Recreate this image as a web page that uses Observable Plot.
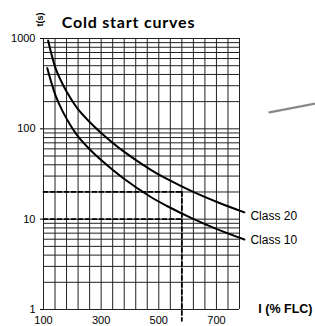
<!DOCTYPE html>
<html><head><meta charset="utf-8">
<script src="https://cdn.jsdelivr.net/npm/d3@7"></script>
<script src="https://cdn.jsdelivr.net/npm/@observablehq/plot@0.6"></script>
<style>html,body{margin:0;padding:0;background:#fff;} svg{display:block;overflow:visible}</style>
</head><body><div id="chart"></div>
<script>
// Data
const class20X = [116, 142, 166, 194, 221, 260, 298, 378, 471, 530, 610, 704, 797];
const class20T = [950, 466, 314, 218, 163, 119, 91.3, 56.3, 35.4, 27.7, 20.7, 15.4, 11.9];
const class10X = [113, 142, 166, 194, 221, 260, 298, 378, 471, 530, 610, 704, 797];
const class10T = [470, 233, 157, 109, 81.5, 59.5, 45.7, 28.2, 17.7, 13.9, 10.4, 7.7, 5.95];
const seriesNames = ["Class 20", "Class 10"];
const titleText = "Cold start curves";
const yLabelText = "t(s)";
const xLabelText = "I (% FLC)";
const xTicks = [100, 300, 500, 700];
const yTicks = [1, 10, 100, 1000];
const xDomain = [100, 780];
const yDomain = [1, 1000];
const xGrid = d3.range(100, 781, 40);
const yGrid = [1,2,3,4,5,6,7,8,9,10,20,30,40,50,60,70,80,90,100,200,300,400,500,600,700,800,900,1000];
const refX = 580;
const refT = [20, 10];
const refVertT = [20, 0.75];
const strayX = [884, 1044];
const strayT = [152, 191];

const c20 = class20X.map((x, i) => ({x, t: class20T[i]}));
const c10 = class10X.map((x, i) => ({x, t: class10T[i]}));
const refRows = refT.flatMap(t => [{x: xDomain[0], t, k: t}, {x: refX, t, k: t}]);
const refVert = refVertT.map(t => ({x: refX, t}));
const stray = strayX.map((x, i) => ({x, t: strayT[i]}));
const sans = "'Liberation Sans', Arial, sans-serif";

const chart = Plot.plot({
  width: 315,
  height: 326,
  marginLeft: 43,
  marginRight: 76,
  marginTop: 38,
  marginBottom: 17,
  style: {fontFamily: sans, fontSize: "11px", background: "#fff", color: "#000"},
  x: {domain: xDomain, label: null},
  y: {type: "log", domain: yDomain, label: null},
  marks: [
    Plot.ruleX(xGrid, {stroke: "#222", strokeWidth: 1}),
    Plot.ruleY(yGrid, {stroke: "#222", strokeWidth: 1}),
    Plot.line(refRows, {x: "x", y: "t", z: "k", stroke: "#000", strokeWidth: 1.8, strokeDasharray: "4,3"}),
    Plot.line(refVert, {x: "x", y: "t", stroke: "#000", strokeWidth: 1.8, strokeDasharray: "4,3"}),
    Plot.line(c20, {x: "x", y: "t", stroke: "#000", strokeWidth: 2, curve: "catmull-rom"}),
    Plot.line(c10, {x: "x", y: "t", stroke: "#000", strokeWidth: 2, curve: "catmull-rom"}),
    Plot.text([c20[c20.length - 1]], {x: "x", y: "t", text: () => seriesNames[0], textAnchor: "start", dx: 6, dy: 4, fontSize: 12, fontFamily: sans}),
    Plot.text([c10[c10.length - 1]], {x: "x", y: "t", text: () => seriesNames[1], textAnchor: "start", dx: 6, dy: 1, fontSize: 12, fontFamily: sans}),
    Plot.line(stray, {x: "x", y: "t", stroke: "#888", strokeWidth: 2.2}),
    Plot.axisX({ticks: xTicks, tickSize: 0, tickPadding: 7, tickFormat: d => String(d), label: null, fontSize: 11}),
    Plot.axisY({ticks: yTicks, tickSize: 3, tickPadding: 5, tickFormat: d => String(d), label: null, fontSize: 11}),
    Plot.text([titleText], {frameAnchor: "top", dx: -13, dy: -22, fontWeight: "bold", fontSize: 16, fontFamily: "Lato"}),
    Plot.text([yLabelText], {frameAnchor: "top-left", dx: -7, dy: -12, rotate: -90, fontWeight: "bold", fontSize: 9, fontFamily: sans}),
    Plot.text([xLabelText], {frameAnchor: "bottom-right", dx: 73, dy: 3, textAnchor: "end", fontWeight: "bold", fontSize: 12.5, fontFamily: sans})
  ]
});
d3.select(chart).selectAll("text").filter(function() { return this.textContent === titleText; })
  .style("letter-spacing", "0.8px");
document.getElementById("chart").appendChild(chart);
</script>
</body></html>
